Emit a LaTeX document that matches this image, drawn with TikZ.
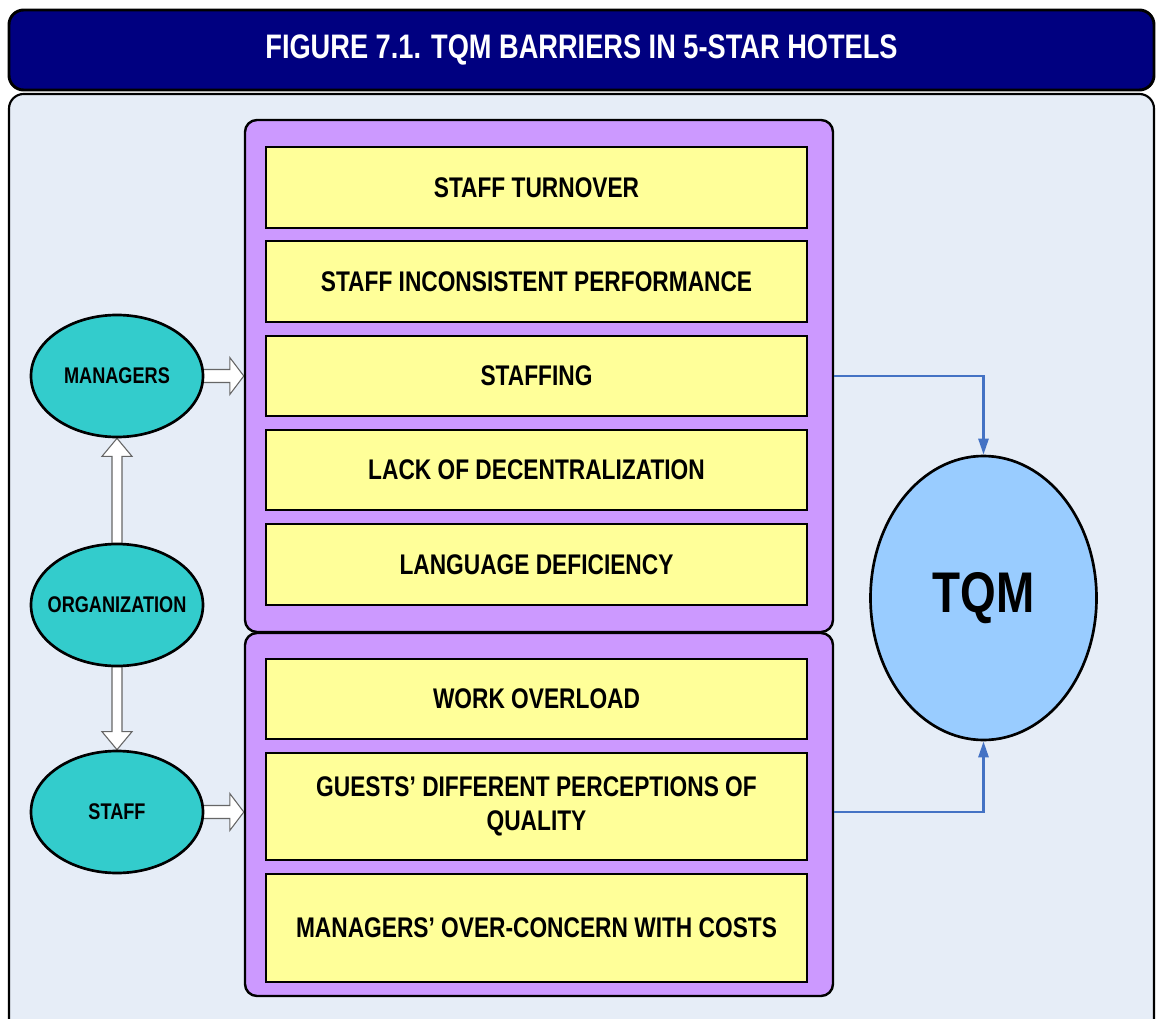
\documentclass[tikz,border=0pt]{standalone}
\usepackage{fontspec}
\newfontfamily\nar{Liberation Sans}[FakeStretch=0.8]
\usetikzlibrary{calc,arrows.meta,shapes.geometric}
\definecolor{navy}{RGB}{0,0,128}
\definecolor{bgc}{RGB}{230,237,247}
\definecolor{purp}{RGB}{204,153,255}
\definecolor{yel}{RGB}{255,255,153}
\definecolor{tealc}{RGB}{51,204,204}
\definecolor{tqmc}{RGB}{153,204,255}
\definecolor{conn}{RGB}{68,114,196}
\pgfdeclarelayer{panel}
\pgfdeclarelayer{arrows}
\pgfsetlayers{panel,arrows,main}
\begin{document}
\begin{tikzpicture}[x=0.75pt,y=-0.75pt,
  titlebox/.style={draw=black, line width=2.2pt, fill=navy, rounded corners=11pt,
    minimum width=1145*0.75pt, minimum height=80*0.75pt, text=white,
    font=\nar\bfseries\fontsize{25.5}{30}\selectfont},
  panelbox/.style={draw=black, line width=1.6pt, fill=bgc, rounded corners=11pt,
    minimum width=1145*0.75pt, minimum height=946*0.75pt},
  group/.style={draw=black, line width=1.8pt, fill=purp, rounded corners=9pt,
    minimum width=588*0.75pt},
  barrier/.style={draw=black, line width=1.8pt, fill=yel, minimum width=541*0.75pt,
    inner sep=0pt, align=center, font=\nar\bfseries\fontsize{21.3}{25}\selectfont},
  actor/.style={ellipse, draw=black, line width=2pt, fill=tealc,
    minimum width=172*0.75pt, minimum height=122*0.75pt, inner sep=0pt,
    font=\nar\bfseries\fontsize{17}{20}\selectfont},
  goal/.style={ellipse, draw=black, line width=2pt, fill=tqmc,
    minimum width=226*0.75pt, minimum height=284*0.75pt, inner sep=0pt,
    font=\nar\bfseries\fontsize{43}{50}\selectfont},
  barrow/.style={draw=black!60, fill=white, line width=0.8pt, line join=miter},
  link/.style={draw=conn, line width=2pt, -{Triangle[length=12pt,width=7.5pt]}}
]
\useasboundingbox (0,0) rectangle (1159,1019);
\clip (0,0) rectangle (1159,1019);

\node[titlebox] (title) at (581.5,50) {FIGURE 7.1. TQM BARRIERS IN 5-STAR HOTELS};
\begin{pgfonlayer}{panel}
\node[panelbox] (panel) at (581.5,567) {};
\end{pgfonlayer}

\node[group, minimum height=512*0.75pt] (g1) at (539,376) {};
\node[group, minimum height=363*0.75pt] (g2) at (539,814.5) {};

\node[barrier, minimum height=81*0.75pt] (b1) at (536.5,187.5) {STAFF TURNOVER};
\node[barrier, minimum height=81*0.75pt] (b2) at (536.5,281.5) {STAFF INCONSISTENT PERFORMANCE};
\node[barrier, minimum height=80*0.75pt] (b3) at (536.5,376) {STAFFING};
\node[barrier, minimum height=80*0.75pt] (b4) at (536.5,470) {LACK OF DECENTRALIZATION};
\node[barrier, minimum height=81*0.75pt] (b5) at (536.5,564.5) {LANGUAGE DEFICIENCY};
\node[barrier, minimum height=80*0.75pt] (b6) at (536.5,699) {WORK OVERLOAD};
\node[barrier, minimum height=107*0.75pt] (b7) at (536.5,806.5) {GUESTS’ DIFFERENT PERCEPTIONS OF\\QUALITY};
\node[barrier, minimum height=108*0.75pt] (b8) at (536.5,928) {MANAGERS’ OVER-CONCERN WITH COSTS};

\node[actor] (mgr) at (117,376) {\makebox[0pt]{MANAGERS}};
\node[actor] (org) at (117,605) {\makebox[0pt]{ORGANIZATION}};
\node[actor] (staff) at (117,812) {\makebox[0pt]{STAFF}};

\node[goal] (tqm) at (983.5,598) {\makebox[0pt]{TQM}};

\begin{pgfonlayer}{arrows}
% managers -> group 1
\draw[barrow] ($(mgr.east)+(-4,-6.5)$) -- ($(g1.west|-mgr.east)+(-14,-6.5)$)
  -- ($(g1.west|-mgr.east)+(-14,-18.5)$) -- (g1.west|-mgr.east)
  -- ($(g1.west|-mgr.east)+(-14,18.5)$) -- ($(g1.west|-mgr.east)+(-14,6.5)$)
  -- ($(mgr.east)+(-4,6.5)$);
% staff -> group 2
\draw[barrow] ($(staff.east)+(-4,-6.5)$) -- ($(g2.west|-staff.east)+(-14,-6.5)$)
  -- ($(g2.west|-staff.east)+(-14,-18.5)$) -- (g2.west|-staff.east)
  -- ($(g2.west|-staff.east)+(-14,18.5)$) -- ($(g2.west|-staff.east)+(-14,6.5)$)
  -- ($(staff.east)+(-4,6.5)$);
% organization -> managers
\draw[barrow] ($(org.north)+(-5,4)$) -- ($(mgr.south)+(-5,18)$)
  -- ($(mgr.south)+(-15,18)$) -- (mgr.south) -- ($(mgr.south)+(15,18)$)
  -- ($(mgr.south)+(5,18)$) -- ($(org.north)+(5,4)$);
% organization -> staff
\draw[barrow] ($(org.south)+(-5,-4)$) -- ($(staff.north)+(-5,-18)$)
  -- ($(staff.north)+(-15,-18)$) -- (staff.north) -- ($(staff.north)+(15,-18)$)
  -- ($(staff.north)+(5,-18)$) -- ($(org.south)+(5,-4)$);
\end{pgfonlayer}

\draw[link] (g1.east|-b3.east) -| (tqm.north);
\draw[link] (g2.east|-staff.east) -| (tqm.south);
\end{tikzpicture}
\end{document}
